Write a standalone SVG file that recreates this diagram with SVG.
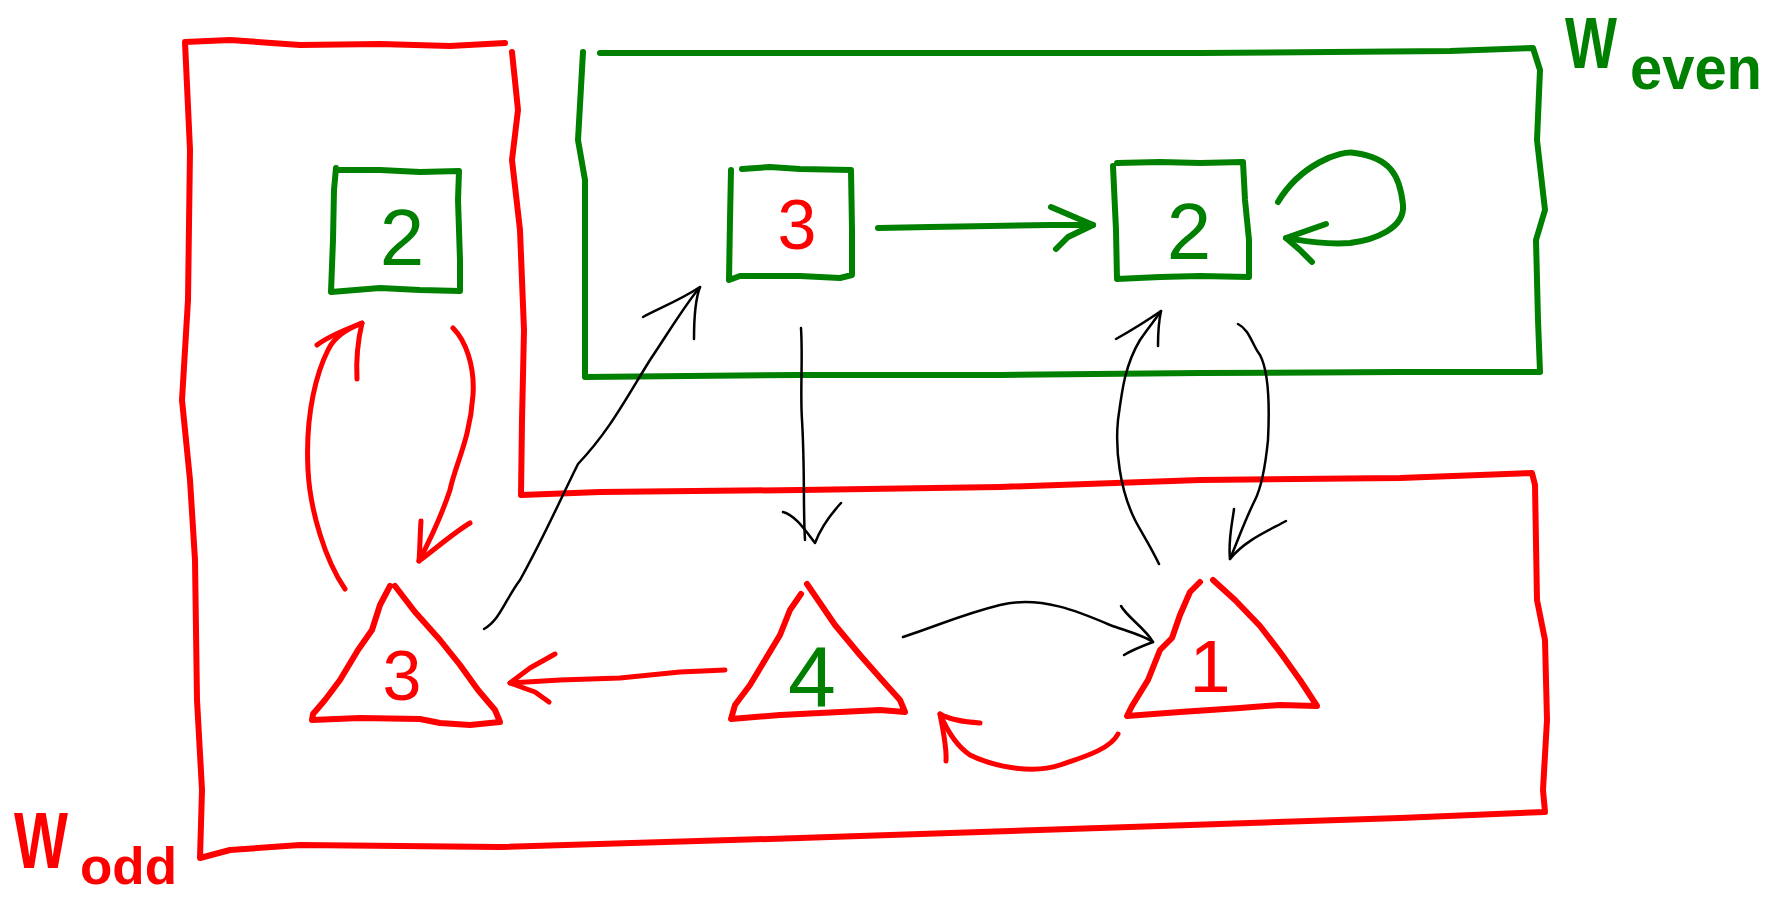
<svg xmlns="http://www.w3.org/2000/svg" width="1776" height="899" viewBox="0 0 1776 899">
  <style>
    .red { fill: none; stroke: #ff0000; stroke-width: 6; stroke-linecap: round; stroke-linejoin: round; }
    .green { fill: none; stroke: #008000; stroke-width: 6; stroke-linecap: round; stroke-linejoin: round; }
    .ink { fill: none; stroke: #000000; stroke-width: 2.5; stroke-linecap: round; stroke-linejoin: round; }
    .redArrow { fill: none; stroke: #ff0000; stroke-width: 5; stroke-linecap: round; stroke-linejoin: round; }
    .greenArrow { fill: none; stroke: #008000; stroke-width: 6; stroke-linecap: round; stroke-linejoin: round; }
    .digit { font-family: "Liberation Sans", Arial, sans-serif; text-anchor: middle; }
    .label { font-family: "Liberation Sans", Arial, sans-serif; font-weight: bold; }
  </style>
  <rect width="1776" height="899" fill="#ffffff"/>

  <!-- W_odd region -->
  <g id="region-odd">
    <path class="red" d="M185,42 L230,40 L300,45 L380,44 L450,46 L505,43 M512,52 L518,110 L512,160 L520,230 L524,330 L522,420 L521,495 L600,492 L800,490 L1000,487 L1200,480 L1400,478 L1532,473 L1535,485 L1537,600 L1545,640 L1547,720 L1543,790 L1545,812 L1400,818 L1100,828 L800,838 L500,847 L300,845 L230,850 L200,858 L202,790 L197,700 L195,560 L190,480 L182,400 L188,300 L190,150 L185,42"/>
    <text class="label" x="14" y="868" font-size="80" fill="#ff0000" textLength="54" lengthAdjust="spacingAndGlyphs">W</text>
    <text class="label" x="80" y="884" font-size="52" fill="#ff0000" textLength="97" lengthAdjust="spacingAndGlyphs">odd</text>
  </g>

  <!-- W_even region -->
  <g id="region-even">
    <path class="green" d="M583,52 L578,140 L585,180 L585,270 L585,377 L800,375 L1000,375 L1200,373 L1400,372 L1540,372 L1538,320 L1536,240 L1545,210 L1537,140 L1540,70 L1533,48 L1450,51 L1200,53 L1000,53 L800,53 L600,53"/>
    <text class="label" x="1565" y="68" font-size="72" fill="#008000" textLength="52" lengthAdjust="spacingAndGlyphs">W</text>
    <text class="label" x="1630" y="89" font-size="62" fill="#008000" textLength="132" lengthAdjust="spacingAndGlyphs">even</text>
  </g>

  <!-- square node 2 (left) -->
  <g id="box-2-left">
    <path class="green" d="M336,168 L334,190 L333,240 L331,292 L380,288 L420,290 L460,291 L460,260 L458,200 L459,171 L420,172 L380,170 L337,170"/>
    <text class="digit" x="402" y="265" font-size="80" fill="#008000">2</text>
  </g>

  <!-- square node 3 -->
  <g id="box-3">
    <path class="green" d="M731,170 L730,220 L729,280 L740,276 L800,276 L840,278 L852,275 L852,230 L851,170 L800,169 L770,167 L742,169"/>
    <text class="digit" x="797" y="249" font-size="70" fill="#ff0000">3</text>
  </g>

  <!-- square node 2 (right) -->
  <g id="box-2-right">
    <path class="green" d="M1113,166 L1116,230 L1117,279 L1160,277 L1200,276 L1249,277 L1249,240 L1245,200 L1243,162 L1200,163 L1160,162 L1117,163"/>
    <text class="digit" x="1189" y="259" font-size="80" fill="#008000">2</text>
  </g>

  <!-- triangle node 3 -->
  <g id="tri-3">
    <path class="red" d="M390,586 L380,605 L372,630 L358,650 L340,680 L325,700 L313,714 L312,720 L360,718 L420,719 L440,723 L470,725 L500,722 L495,710 L478,690 L460,665 L440,640 L415,612 L395,586"/>
    <text class="digit" x="402" y="700" font-size="70" fill="#ff0000">3</text>
  </g>

  <!-- triangle node 4 -->
  <g id="tri-4">
    <path class="red" d="M801,594 L790,610 L780,635 L765,660 L750,685 L735,705 L731,719 L780,715 L840,712 L880,710 L905,712 L900,700 L882,680 L860,655 L835,625 L807,584"/>
    <text class="digit" x="812" y="706" font-size="86" fill="#008000">4</text>
  </g>

  <!-- triangle node 1 -->
  <g id="tri-1">
    <path class="red" d="M1200,582 L1190,592 L1180,615 L1172,638 L1160,650 L1148,680 L1132,706 L1127,716 L1180,712 L1240,708 L1280,705 L1317,706 L1300,680 L1280,652 L1260,626 L1235,600 L1213,580"/>
    <text class="digit" x="1210" y="692" font-size="74" fill="#ff0000">1</text>
  </g>

  <!-- connectors -->
  <g id="connectors">
    <!-- green: 3 -> 2 and self-loop on 2 -->
    <path class="greenArrow" d="M878,228 L930,227 L990,226 L1050,225 L1093,225"/>
    <path class="greenArrow" d="M1051,207 L1093,225 L1068,237 L1056,249"/>
    <path class="greenArrow" d="M1278,202 C1300,165 1340,150 1355,153 C1390,158 1400,175 1403,205 C1405,228 1375,240 1350,243 C1320,245 1300,240 1286,238"/>
    <path class="greenArrow" d="M1326,224 L1286,238 L1300,250 L1312,262"/>

    <!-- red: between box 2 and triangle 3 -->
    <path class="redArrow" d="M345,589 C325,560 310,510 308,470 C305,410 318,370 328,350 C335,335 350,328 362,323"/>
    <path class="redArrow" d="M317,345 C330,335 345,330 362,323 C358,340 356,360 357,379"/>
    <path class="redArrow" d="M453,328 C465,340 475,365 473,395 C470,440 455,465 450,490 C440,520 430,540 419,561"/>
    <path class="redArrow" d="M421,521 C420,535 420,548 419,561 C440,545 455,532 470,523"/>

    <!-- red: triangle 4 -> triangle 3 -->
    <path class="redArrow" d="M725,670 L680,672 L620,678 L560,680 L510,683"/>
    <path class="redArrow" d="M555,654 L530,668 L510,683 L535,692 L549,702"/>

    <!-- red: triangle 1 -> triangle 4 -->
    <path class="redArrow" d="M1118,734 C1110,750 1080,758 1060,765 C1030,775 990,765 970,755 C955,745 946,728 940,714"/>
    <path class="redArrow" d="M980,723 C965,722 950,720 940,714 C943,730 947,748 946,761"/>

    <!-- black: triangle 3 -> box 3 -->
    <path class="ink" d="M484,629 C500,620 505,600 520,580 C545,535 560,500 578,464 C610,430 625,400 650,360 C670,330 685,305 700,287"/>
    <path class="ink" d="M643,317 C660,308 680,300 700,287 C695,300 694,320 694,339"/>

    <!-- black: box 3 -> triangle 4 -->
    <path class="ink" d="M801,328 C803,360 800,390 802,420 C805,470 803,510 805,540"/>
    <path class="ink" d="M783,512 C795,515 805,530 815,543 C820,530 830,515 841,503"/>

    <!-- black: triangle 4 -> triangle 1 -->
    <path class="ink" d="M903,637 C940,625 960,615 1000,605 C1040,595 1080,612 1110,625 C1130,632 1145,636 1153,642"/>
    <path class="ink" d="M1121,606 C1128,618 1145,628 1153,642 C1145,645 1132,650 1124,655"/>

    <!-- black: triangle 1 -> box 2 (right) -->
    <path class="ink" d="M1159,564 C1150,545 1140,530 1135,520 C1120,490 1115,450 1118,420 C1122,390 1125,365 1140,340 C1148,328 1155,320 1161,311"/>
    <path class="ink" d="M1116,339 C1132,330 1148,320 1161,311 C1158,325 1158,335 1158,346"/>

    <!-- black: box 2 (right) -> triangle 1 -->
    <path class="ink" d="M1238,324 C1250,330 1252,345 1260,355 C1268,370 1270,400 1268,440 C1265,470 1260,490 1255,500 C1245,520 1240,535 1230,559"/>
    <path class="ink" d="M1234,509 C1232,525 1228,540 1230,559 C1245,540 1270,530 1286,521"/>
  </g>
</svg>
